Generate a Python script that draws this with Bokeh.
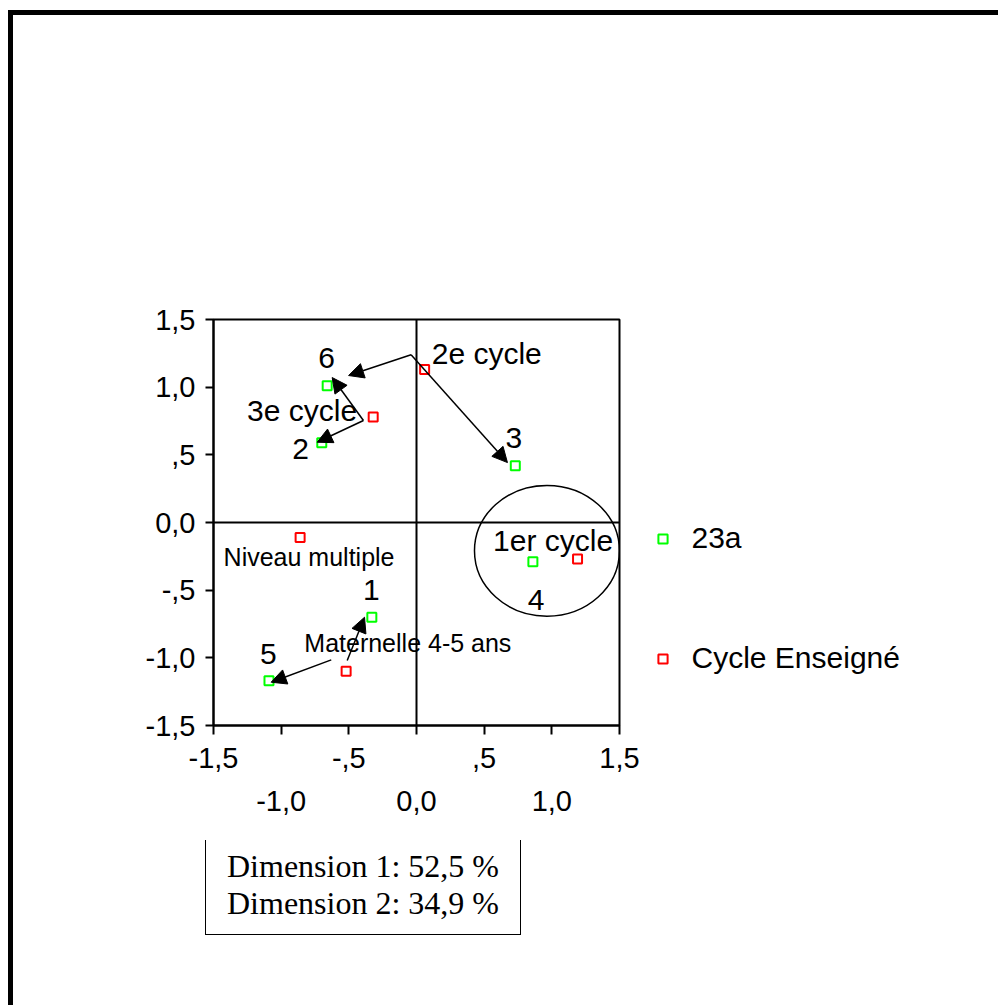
from bokeh.plotting import figure
from bokeh.layouts import column, row
from bokeh.models import (Range1d, LinearAxis, FixedTicker, Span, Arrow, NormalHead,
                          ColumnDataSource, Legend, LegendItem, Spacer)
from bokeh.core.properties import value
from bokeh.embed import file_html
from bokeh.resources import INLINE

# Correspondence analysis: row points (23a) and column points (Cycle Enseigné)
age_labels = ["1", "2", "3", "4", "5", "6"]
age_x = [-0.33, -0.70, 0.73, 0.86, -1.09, -0.66]
age_y = [-0.70, 0.59, 0.42, -0.29, -1.17, 1.01]

cycle_labels = ["Maternelle 4-5 ans", "1er cycle", "2e cycle", "3e cycle", "Niveau multiple"]
cycle_x = [-0.52, 1.19, 0.06, -0.32, -0.86]
cycle_y = [-1.10, -0.27, 1.13, 0.78, -0.11]

# where each point's name is written
age_label_x = [-0.333, -0.857, 0.719, 0.884, -1.094, -0.665]
age_label_y = [-0.498, 0.541, 0.627, -0.572, -0.974, 1.214]
cycle_label_x = [-0.064, 1.009, 0.519, -0.845, -0.794]
cycle_label_y = [-0.892, -0.134, 1.246, 0.827, -0.252]

# arrows linking cycles to ages
arrow_x0 = [-0.04, -0.04, -0.392, -0.392, -0.512, -0.630]
arrow_y0 = [1.239, 1.239, 0.754, 0.754, -1.020, -1.015]
arrow_x1 = [-0.502, 0.672, -0.623, -0.734, -0.384, -1.074]
arrow_y1 = [1.086, 0.443, 1.071, 0.593, -0.700, -1.180]

# ring around the 1er cycle group
ring_x, ring_y, ring_w, ring_h = 0.964, -0.209, 1.071, 0.966

axis_ticks = [-1.5, -1.0, -0.5, 0.0, 0.5, 1.0, 1.5]
y_tick_text = ["-1,5", "-1,0", "-,5", "0,0", ",5", "1,0", "1,5"]
x_row1_text = ["-1,5", "", "-,5", "", ",5", "", "1,5"]
x_row2_ticks = [-1.0, 0.0, 1.0]
x_row2_text = ["-1,0", "0,0", "1,0"]

series_names = ["23a", "Cycle Enseigné"]
series_colors = ["#00FF00", "#FF0000"]
inertia_text = ["Dimension 1: 52,5 %", "Dimension 2: 34,9 %"]

SANS = "Liberation Sans"
SERIF = "Liberation Serif"

# page rules along the top and left edge, painted behind transparent canvases
page_bg = ("linear-gradient(#000, #000) 8px 10px / 990px 5px no-repeat, "
           "linear-gradient(#000, #000) 8px 10px / 5px 995px no-repeat, #fff")


def bare(fig):
    fig.xgrid.grid_line_color = None
    fig.ygrid.grid_line_color = None
    fig.outline_line_color = None
    fig.background_fill_color = None
    fig.border_fill_color = None


# ---- main chart ----
p = figure(width=640, height=840, x_range=Range1d(-1.5, 1.5), y_range=Range1d(-1.5, 1.5),
           output_backend="svg", toolbar_location=None,
           x_axis_location=None, y_axis_location=None,
           min_border_left=213, min_border_right=21, min_border_top=319, min_border_bottom=115)
bare(p)
p.outline_line_color = "black"
p.outline_line_width = 2


def style_axis(ax, tick_out, standoff):
    ax.axis_line_color = "black"
    ax.axis_line_width = 2
    ax.major_tick_line_color = "black"
    ax.major_tick_line_width = 2
    ax.major_tick_in = 0
    ax.major_tick_out = tick_out
    ax.minor_tick_line_color = None
    ax.major_label_text_font = SANS
    ax.major_label_text_font_size = "29px"
    ax.major_label_text_color = "black"
    ax.major_label_standoff = standoff


y_axis = LinearAxis(ticker=FixedTicker(ticks=axis_ticks),
                    major_label_overrides=dict(zip(axis_ticks, y_tick_text)))
style_axis(y_axis, 8, 10)
p.add_layout(y_axis, "left")

x_axis1 = LinearAxis(ticker=FixedTicker(ticks=axis_ticks),
                     major_label_overrides=dict(zip(axis_ticks, x_row1_text)))
style_axis(x_axis1, 9, 13)
p.add_layout(x_axis1, "below")

x_axis2 = LinearAxis(ticker=FixedTicker(ticks=x_row2_ticks),
                     major_label_overrides=dict(zip(x_row2_ticks, x_row2_text)))
style_axis(x_axis2, 0, 20)
x_axis2.axis_line_color = None
x_axis2.major_tick_line_color = None
p.add_layout(x_axis2, "below")

# origin lines
p.add_layout(Span(location=0, dimension="height", line_color="black", line_width=2))
p.add_layout(Span(location=0, dimension="width", line_color="black", line_width=2))

p.ellipse(x=ring_x, y=ring_y, width=ring_w, height=ring_h,
          fill_color=None, line_color="black", line_width=1.5)

arrows = ColumnDataSource(dict(x0=arrow_x0, y0=arrow_y0, x1=arrow_x1, y1=arrow_y1))
p.add_layout(Arrow(x_start="x0", y_start="y0", x_end="x1", y_end="y1", source=arrows,
                   line_color="black", line_width=1.5,
                   end=NormalHead(size=15, fill_color="black", line_color="black", line_width=1)))

p.scatter(age_x, age_y, marker="square", size=9, fill_color=None,
          line_color=series_colors[0], line_width=2)
p.scatter(cycle_x, cycle_y, marker="square", size=9, fill_color=None,
          line_color=series_colors[1], line_width=2)

p.text(x=age_label_x, y=age_label_y, text=age_labels, text_font=value(SANS),
       text_font_size="30px", text_align="center", text_baseline="alphabetic", text_color="black")
big = (1, 2, 3)
small = (0, 4)
p.text(x=[cycle_label_x[i] for i in big], y=[cycle_label_y[i] for i in big],
       text=[cycle_labels[i] for i in big], text_font=value(SANS),
       text_font_size="30px", text_align="center", text_baseline="alphabetic", text_color="black")
p.text(x=[cycle_label_x[i] for i in small], y=[cycle_label_y[i] for i in small],
       text=[cycle_labels[i] for i in small], text_font=value(SANS),
       text_font_size="25px", text_align="center", text_baseline="alphabetic", text_color="black")

# ---- series key, right of the chart ----
# each key entry is backed by a single point kept outside the visible range
k = figure(width=358, height=840, x_range=Range1d(0, 1), y_range=Range1d(0, 1),
           output_backend="svg", toolbar_location=None,
           x_axis_location=None, y_axis_location=None, min_border=0)
bare(k)
key_items = []
for name, color in zip(series_names, series_colors):
    r = k.scatter(x=[-5], y=[-5], marker="square", size=9, fill_color=None,
                  line_color=color, line_width=2)
    key_items.append(LegendItem(label=name, renderers=[r]))
k.add_layout(Legend(items=key_items, location=(10.5, 47), orientation="vertical",
                    glyph_width=23, glyph_height=23, label_standoff=18, label_height=40,
                    spacing=80, padding=0, margin=0, border_line_color=None,
                    background_fill_alpha=0, label_text_font=SANS,
                    label_text_font_size="30px", label_text_color="black"))

# ---- inertia box under the chart (entries carry no visible glyph) ----
b = figure(width=330, height=165, x_range=Range1d(0, 1), y_range=Range1d(0, 1),
           output_backend="svg", toolbar_location=None,
           x_axis_location=None, y_axis_location=None, min_border=0)
bare(b)
blank = b.scatter(x=[-5], y=[-5], marker="square", size=1, fill_alpha=0, line_alpha=0)
b.add_layout(Legend(items=[LegendItem(label=t, renderers=[blank]) for t in inertia_text],
                    location=(5, 70), orientation="vertical", margin=0,
                    glyph_width=9, glyph_height=9, label_standoff=0, label_height=35,
                    label_width=281, spacing=-2, padding=12,
                    border_line_color="black", border_line_alpha=1, border_line_width=1.5,
                    background_fill_alpha=0, label_text_font=SERIF,
                    label_text_font_size="32px", label_text_color="black"))

page = column(row(p, k), row(Spacer(width=200, height=165), b),
              styles={"background": page_bg})

open("out.html", "w").write(file_html(page, INLINE))
